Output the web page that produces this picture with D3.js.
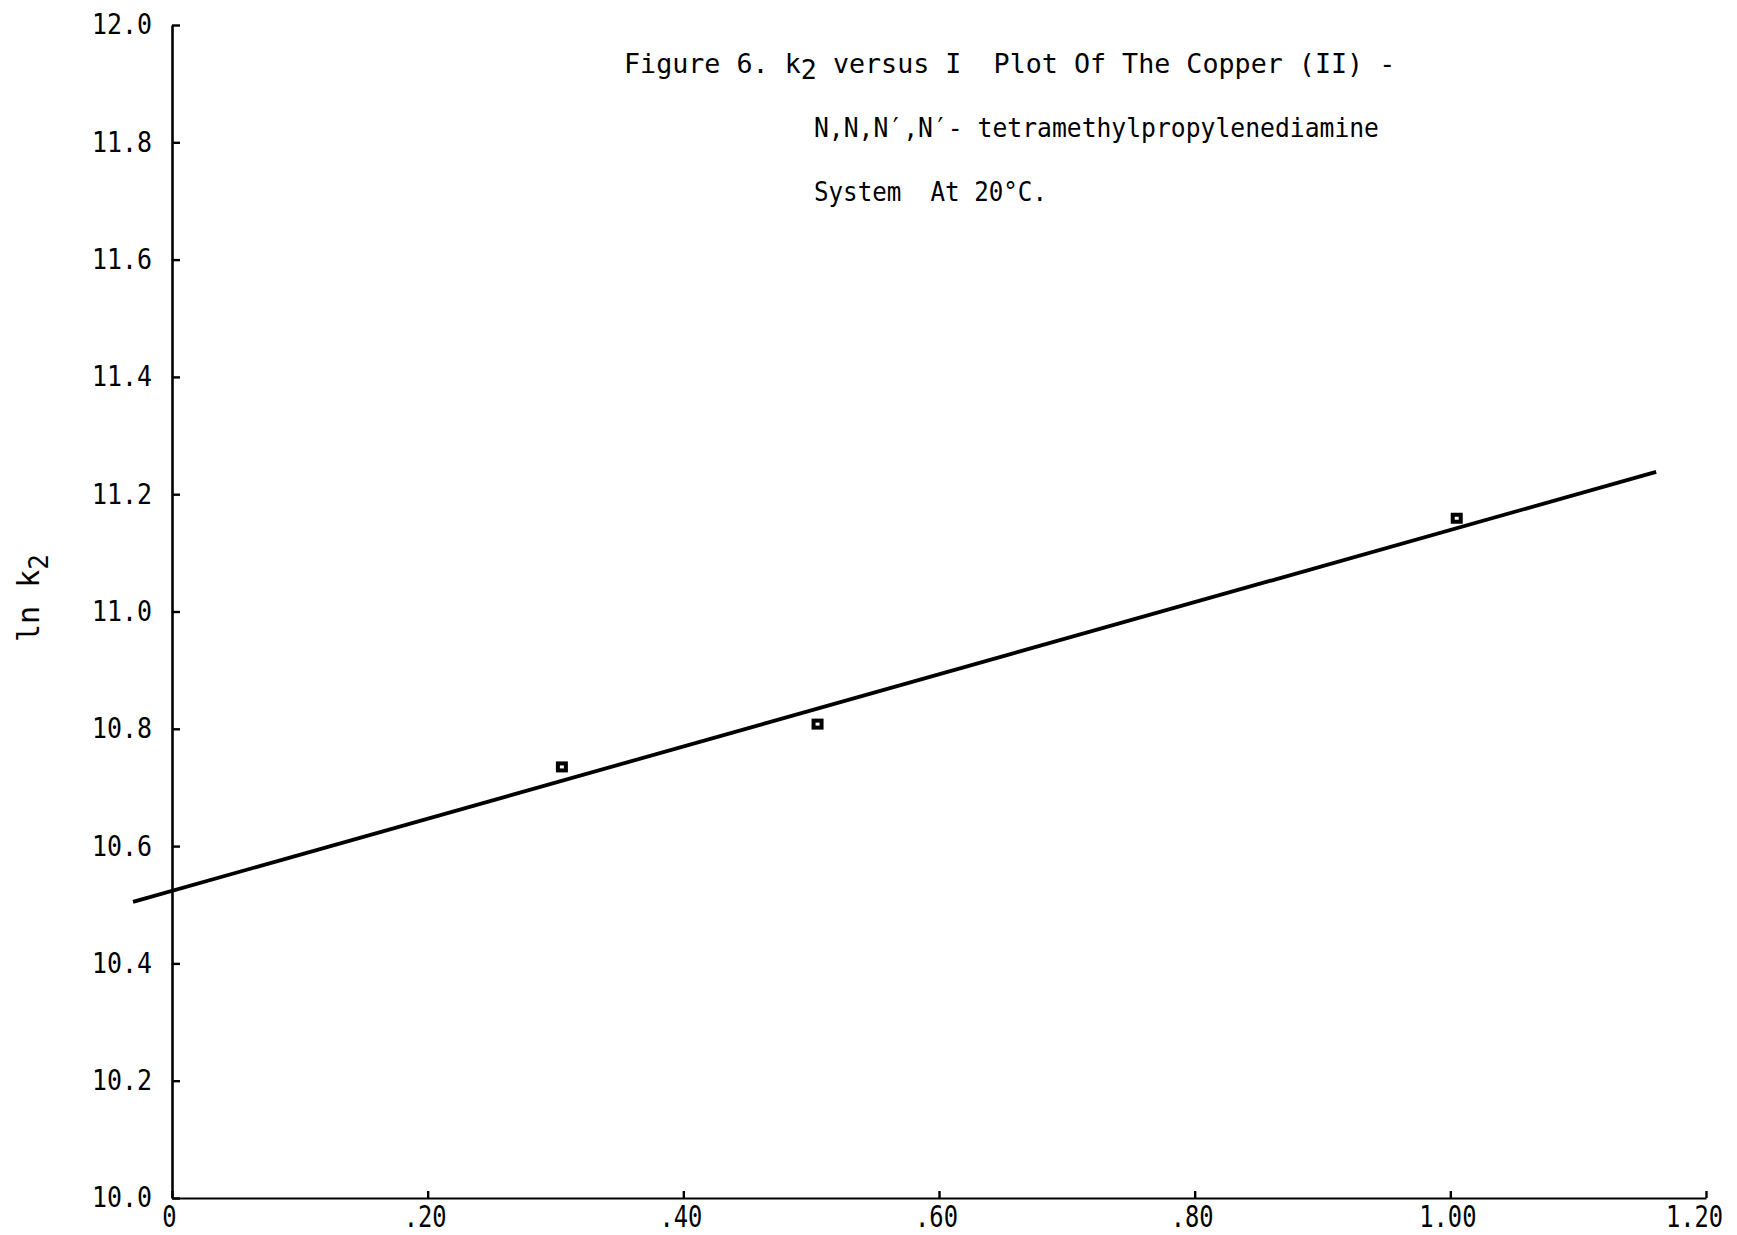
<!DOCTYPE html>
<html>
<head>
<meta charset="utf-8">
<script src="https://cdn.jsdelivr.net/npm/d3@7"></script>
<style>
  html, body { margin: 0; padding: 0; background: #fff; }
  svg { display: block; }
  .mono { font-family: "DejaVu Sans Mono", "Liberation Mono", monospace; fill: #000; }
</style>
</head>
<body>
<svg id="chart" width="1737" height="1235"></svg>
<script>
// Ionic strength I and measured ln k2 values
const ionicStrength = [0.305, 0.505, 1.005];
const lnK2 = [10.735, 10.808, 11.159];

// End points of the least-squares line
const fitI = [-0.0305, 1.161];
const fitLnK2 = [10.505, 11.238];

// Axis ticks and their printed labels
const xTicks = [0, 0.2, 0.4, 0.6, 0.8, 1.0, 1.2];
const xTickLabels = ["0", ".20", ".40", ".60", ".80", "1.00", "1.20"];
const yTicks = [10.0, 10.2, 10.4, 10.6, 10.8, 11.0, 11.2, 11.4, 11.6, 11.8, 12.0];
const yTickLabels = ["10.0", "10.2", "10.4", "10.6", "10.8", "11.0", "11.2", "11.4", "11.6", "11.8", "12.0"];

// Title lines
const titleLines = [
  ["Figure 6. k", "2", " versus I  Plot Of The Copper (II) -"],
  ["N,N,N\u2032,N\u2032- tetramethylpropylenediamine"],
  ["System  At 20\u00B0C."]
];

const svg = d3.select("#chart");

const x = d3.scaleLinear().domain([0, 1.2]).range([172, 1706]);
const y = d3.scaleLinear().domain([10, 12]).range([1198, 25]);

// Narrow, tall typewriter-style digits
function condense(sel, pitch) {
  sel.each(function () {
    const n = this.textContent.length;
    d3.select(this)
      .attr("textLength", n * pitch)
      .attr("lengthAdjust", "spacingAndGlyphs");
  });
}

// y axis, ticks pointing into the plot
const yAxis = d3.axisLeft(y)
  .tickValues(yTicks)
  .tickFormat((d, i) => yTickLabels[i])
  .tickSize(-8)
  .tickSizeOuter(0)
  .tickPadding(20);

const gy = svg.append("g")
  .attr("transform", `translate(${x(0)},0)`)
  .call(yAxis);
gy.attr("font-family", null).attr("font-size", null);
gy.select(".domain").attr("stroke", "#000").attr("stroke-width", 2.6);
gy.selectAll(".tick line").attr("stroke", "#000").attr("stroke-width", 2.4);
gy.selectAll(".tick text")
  .attr("class", "mono")
  .attr("font-size", 28)
  .attr("fill", "#000")
  .call(condense, 15);

// x axis, ticks pointing into the plot
const xAxis = d3.axisBottom(x)
  .tickValues(xTicks)
  .tickFormat((d, i) => xTickLabels[i])
  .tickSize(-7)
  .tickSizeOuter(0)
  .tickPadding(8);

const gx = svg.append("g")
  .attr("transform", `translate(0,${y(10)})`)
  .call(xAxis);
gx.attr("font-family", null).attr("font-size", null);
gx.select(".domain").attr("stroke", "#000").attr("stroke-width", 2.2);
gx.selectAll(".tick line").attr("stroke", "#000").attr("stroke-width", 2.4);
gx.selectAll(".tick text")
  .attr("class", "mono")
  .attr("font-size", 30)
  .attr("fill", "#000")
  .attr("dx", (d, i) => (i === xTicks.length - 1 ? -12 : -3))
  .call(condense, 14.3);

// Fitted straight line
const line = d3.line()
  .x(d => x(d[0]))
  .y(d => y(d[1]));

svg.append("path")
  .datum(d3.zip(fitI, fitLnK2))
  .attr("d", line)
  .attr("fill", "none")
  .attr("stroke", "#000")
  .attr("stroke-width", 3.8)
  .attr("stroke-linecap", "butt");

// Data points as small heavy squares
svg.append("g")
  .selectAll("rect")
  .data(d3.zip(ionicStrength, lnK2))
  .join("rect")
  .attr("x", d => x(d[0]) - 4)
  .attr("y", d => y(d[1]) - 3.5)
  .attr("width", 8)
  .attr("height", 7)
  .attr("fill", "#fff")
  .attr("stroke", "#000")
  .attr("stroke-width", 4);

// y-axis label: ln k2
const yLabel = svg.append("text")
  .attr("class", "mono")
  .attr("font-size", 30)
  .attr("transform", "translate(39,642) rotate(-90)");
yLabel.append("tspan").text("ln k");
yLabel.append("tspan").attr("dy", 9).attr("font-size", 26).text("2");

// Title block
const titleX = [624, 814, 814];
const titleY = [73, 137, 201];
const titleWidth = [null, 565, 233];
titleLines.forEach((parts, i) => {
  const t = svg.append("text")
    .attr("class", "mono")
    .attr("font-size", 26.7)
    .attr("x", titleX[i])
    .attr("y", titleY[i])
    .attr("xml:space", "preserve")
    .style("white-space", "pre");
  if (titleWidth[i]) {
    t.attr("textLength", titleWidth[i]).attr("lengthAdjust", "spacingAndGlyphs");
  }
  if (parts.length === 3) {
    t.append("tspan").text(parts[0]);
    t.append("tspan").attr("dy", 6).text(parts[1]);
    t.append("tspan").attr("dy", -6).text(parts[2]);
  } else {
    t.append("tspan").text(parts[0]);
  }
});
</script>
</body>
</html>
